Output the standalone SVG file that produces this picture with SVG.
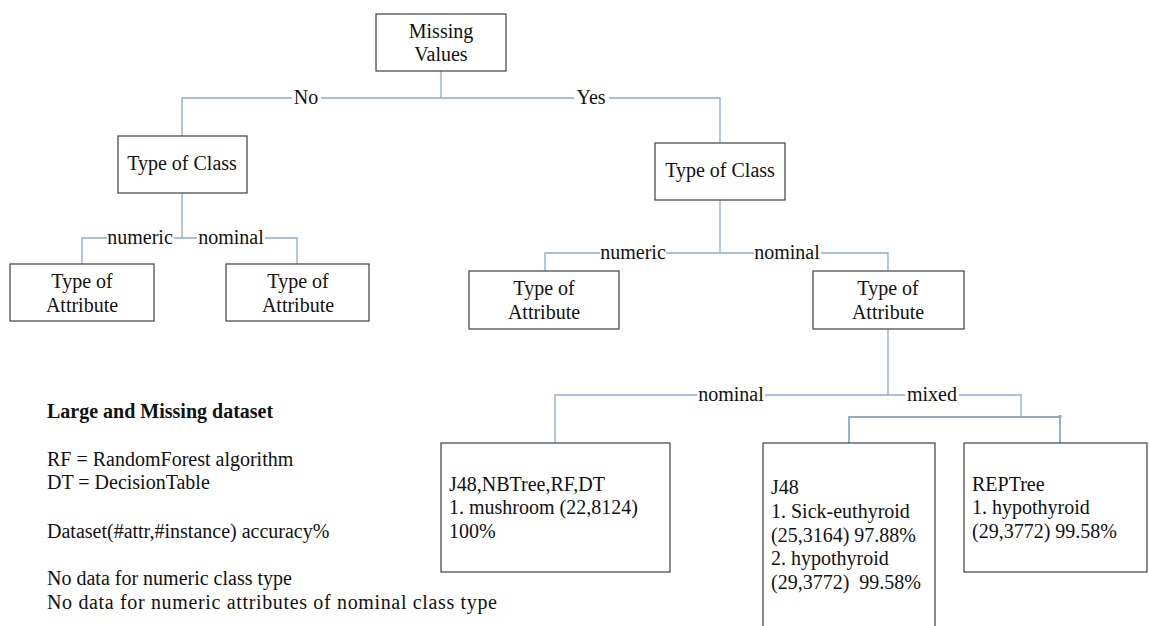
<svg xmlns="http://www.w3.org/2000/svg" width="1150" height="626" viewBox="0 0 1150 626">
<style>
.box{fill:#fff;stroke:#404040;stroke-width:1.2}
.ln{fill:none;stroke:#8faacc;stroke-width:1.3}
text{fill:#111;font-size:20px}
.c{text-anchor:middle}
.bg{fill:#fff}
</style>
<rect width="1150" height="626" fill="#fff"/>
<g font-family="'Liberation Serif','Times New Roman',Times,'DejaVu Serif',serif">
<g id="connectors">
<path class="ln" d="M441,71V98M182,136V98H720V143"/>
<path class="ln" d="M182,193V238M82,264V238H297V264"/>
<path class="ln" d="M720,200V253M545,271V253H888V271"/>
<path class="ln" d="M888,329V395M555,443V395H1021V417"/>
<path class="ln" d="M849,443V417H1060V443" style="stroke-width:1.8"/>
<rect x="1058.5" y="415" width="3" height="3" fill="#8faacc"/>
<rect class="bg" x="292" y="88" width="29" height="20"/>
<text class="c" x="306" y="104">No</text>
<rect class="bg" x="574" y="88" width="35" height="20"/>
<text class="c" x="591" y="104">Yes</text>
<rect class="bg" x="107" y="228" width="67" height="20"/>
<text class="c" x="140" y="244">numeric</text>
<rect class="bg" x="197" y="228" width="68" height="20"/>
<text class="c" x="231" y="244">nominal</text>
<rect class="bg" x="600" y="243" width="66" height="20"/>
<text class="c" x="633" y="259">numeric</text>
<rect class="bg" x="754" y="243" width="67" height="20"/>
<text class="c" x="787" y="259">nominal</text>
<rect class="bg" x="697" y="385" width="68" height="20"/>
<text class="c" x="731" y="401">nominal</text>
<rect class="bg" x="905" y="385" width="54" height="20"/>
<text class="c" x="932" y="401">mixed</text>
</g>
<g id="n-missing">
<rect class="box" x="376" y="14" width="130" height="57"/>
<text class="c" x="441" y="38">Missing</text>
<text class="c" x="441" y="61">Values</text>
</g>
<g id="n-class-left">
<rect class="box" x="118" y="136" width="129" height="57"/>
<text class="c" x="182" y="170">Type of Class</text>
</g>
<g id="n-class-right">
<rect class="box" x="655" y="143" width="130" height="57"/>
<text class="c" x="720" y="177">Type of Class</text>
</g>
<g id="n-attr-1">
<rect class="box" x="10" y="264" width="144" height="57"/>
<text class="c" x="82" y="288">Type of</text>
<text class="c" x="82" y="312">Attribute</text>
</g>
<g id="n-attr-2">
<rect class="box" x="226" y="264" width="143" height="57"/>
<text class="c" x="298" y="288">Type of</text>
<text class="c" x="298" y="312">Attribute</text>
</g>
<g id="n-attr-3">
<rect class="box" x="469" y="271" width="150" height="58"/>
<text class="c" x="544" y="295">Type of</text>
<text class="c" x="544" y="319">Attribute</text>
</g>
<g id="n-attr-4">
<rect class="box" x="813" y="271" width="151" height="58"/>
<text class="c" x="888" y="295">Type of</text>
<text class="c" x="888" y="319">Attribute</text>
</g>
<g id="n-nominal-result">
<rect class="box" x="441" y="443" width="229" height="129"/>
<text x="449" y="491">J48,NBTree,RF,DT</text>
<text x="449" y="514">1. mushroom (22,8124)</text>
<text x="449" y="538">100%</text>
</g>
<g id="n-j48">
<rect class="box" x="763" y="443" width="172" height="200"/>
<text x="771" y="494">J48</text>
<text x="771" y="518">1. Sick-euthyroid</text>
<text x="771" y="542">(25,3164) 97.88%</text>
<text x="771" y="565">2. hypothyroid</text>
<text x="771" y="589" xml:space="preserve">(29,3772)  99.58%</text>
</g>
<g id="n-reptree">
<rect class="box" x="964" y="443" width="183" height="129"/>
<text x="972" y="491">REPTree</text>
<text x="972" y="514">1. hypothyroid</text>
<text x="972" y="538">(29,3772) 99.58%</text>
</g>
<g id="legend">
<text x="47" y="418" font-weight="bold">Large and Missing dataset</text>
<text x="47" y="466">RF = RandomForest algorithm</text>
<text x="47" y="489">DT = DecisionTable</text>
<text x="47" y="538">Dataset(#attr,#instance) accuracy%</text>
<text x="47" y="585">No data for numeric class type</text>
<text x="47" y="609" textLength="450" lengthAdjust="spacing">No data for numeric attributes of nominal class type</text>
</g>
</g>
</svg>
